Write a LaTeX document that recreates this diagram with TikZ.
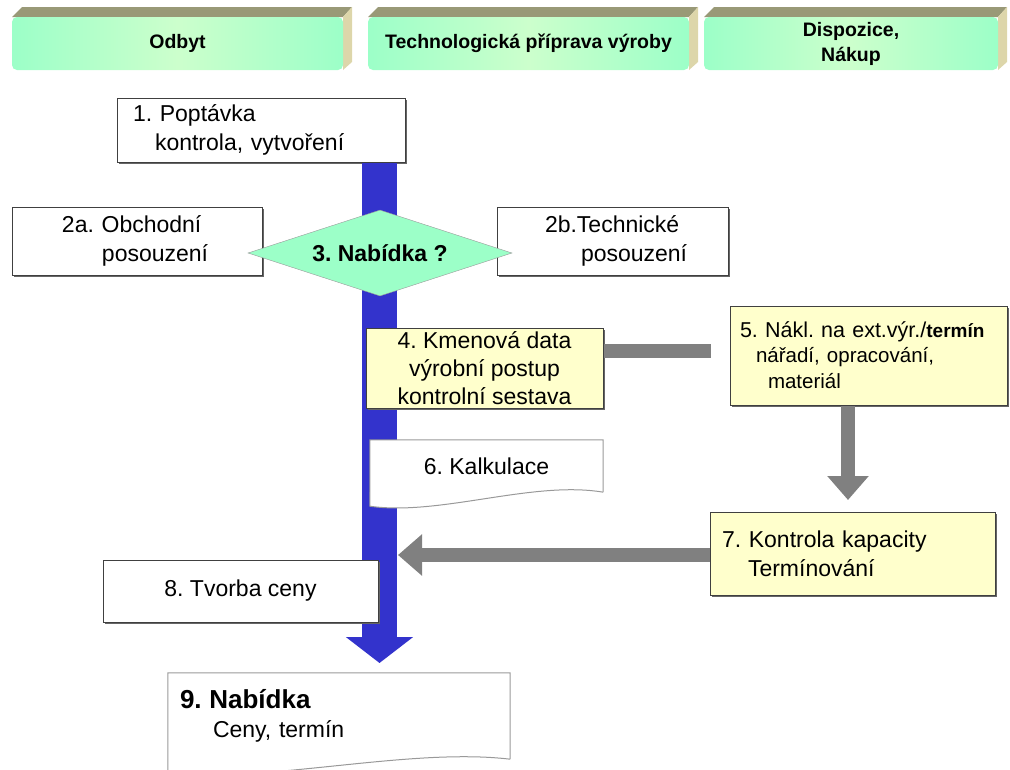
\documentclass[tikz,border=0pt]{standalone}
\usepackage{fontspec}
\setmainfont{Liberation Sans}
\usetikzlibrary{positioning, shapes.geometric, shadows, arrows.meta}
\definecolor{mint}{HTML}{9CFFC8}
\definecolor{mintlight}{HTML}{CCFFCC}
\definecolor{tabtop}{HTML}{999977}
\definecolor{tabside}{HTML}{DDD6AA}
\definecolor{flowblue}{HTML}{3333CC}
\definecolor{noteyellow}{HTML}{FFFFCC}
\definecolor{linkgray}{HTML}{808080}
\frenchspacing
\newcommand{\ind}[1]{\hspace*{#1pt}}
\newcommand{\txt}{\fontsize{23}{29}\selectfont}
\tikzset{%
  block/.style    = {draw = black!75, line width = 1pt, fill = white, rectangle,
    inner sep = 0pt, align = left, font = \txt,
    drop shadow = {shadow xshift = 2pt, shadow yshift = -2pt, fill = black!60, opacity = 1}},
  note/.style     = {block, fill = noteyellow}, % yellow boxes
  paper/.style    = {rectangle, fill = white, inner sep = 0pt, font = \txt}, % wavy boxes
  decision/.style = {diamond, aspect = 3.1, draw = black!40, fill = mint, inner sep = 0pt,
    font = \bfseries\fontsize{23}{28}\selectfont},
  header/.style   = {rectangle, rounded corners = 5pt, inner sep = 0pt, align = center,
    left color = mint, right color = mint, middle color = mintlight,
    font = \bfseries\fontsize{19.5}{25}\selectfont},
  flow/.style     = {flowblue, line width = 35pt, -{Triangle[width = 66pt, length = 26pt]}},
  link/.style     = {linkgray, line width = 14pt},
  linkarrow/.style = {link, -{Triangle[width = 40pt, length = 24pt]}}
}
% header tab: left, right, name, text
\newcommand{\headtab}[4]{%
  \fill[tabtop] (#1,17) -- (#1+10,7) -- (#2+9,7) -- (#2,17) -- cycle;
  \fill[tabside] (#2,17) -- (#2+9,7) -- (#2+9,62) -- (#2,70) -- cycle;
  \node[header, minimum width = #2-#1, minimum height = 53] (#3) at ({(#1+#2)/2},43.5) {#4};
}

\begin{document}
\begin{tikzpicture}[x = 1pt, y = -1pt]
\useasboundingbox (0,0) rectangle (1010,769);
%header tabs
\headtab{12}{343}{hodbyt}{Odbyt}
\headtab{368}{689}{htech}{Technologická příprava výroby}
\headtab{704}{998}{hnakup}{Dispozice,\\Nákup}
%first box and main flow
\draw
	(261,130) node [block, minimum width = 288, minimum height = 64, text width = 288pt] (b1)
		{\ind{16}1. Poptávka\\\ind{38}kontrola, vytvoření};
\coordinate (fend) at (379.5,663);
\draw[flow] (b1.south -| fend) -- (fend);
%process blocks
\draw
	(137,241) node [block, minimum width = 250, minimum height = 68, text width = 250pt] (b2a)
		{\ind{50}2a. Obchodní\\\ind{90}posouzení}
	(612.5,241) node [block, minimum width = 231, minimum height = 68, text width = 231pt] (b2b)
		{\ind{48}2b.Technické\\\ind{84}posouzení}
	(380,253) node [decision, minimum width = 264, minimum height = 86] (d3) {3. Nabídka ?}
	(484.5,368) node [note, minimum width = 237, minimum height = 80, align = center,
		font = \fontsize{23}{28}\selectfont] (b4)
		{4. Kmenová data\\výrobní postup\\kontrolní sestava}
	(868.5,355.5) node [note, minimum width = 277, minimum height = 99, text width = 277pt,
		font = \fontsize{21.5}{26}\selectfont] (b5)
		{\ind{10}5. Nákl. na ext.výr./\textbf{\fontsize{19}{26}\selectfont termín}\\
		\ind{26}\fontsize{20.5}{25}\selectfont nářadí, opracování,\\\ind{38}materiál}
	(852.5,553.5) node [note, minimum width = 285, minimum height = 83, text width = 285pt] (b7)
		{\ind{12}7. Kontrola kapacity\\\ind{38}Termínování}
	(240.5,591) node [block, minimum width = 275, minimum height = 62, align = center] (b8)
		{8. Tvorba ceny};
%wavy paper blocks
\node[paper, minimum width = 233, minimum height = 52] (b6) at (486.5,466) {6. Kalkulace};
\fill[white] (b6.south west) -- ++(0,14) .. controls +(70,10) and +(-70,-12) .. (b6.south east) -- cycle;
\draw[black!40, line width = 1pt] (b6.south east) -- (b6.north east) -- (b6.north west) -- (b6.south west)
	-- ++(0,14) .. controls +(70,10) and +(-70,-12) .. (b6.south east);
\node[paper, minimum width = 342, minimum height = 86, align = left, text width = 342pt] (b9) at (339,716)
	{\ind{12}{\bfseries\fontsize{26}{31}\selectfont 9. Nabídka}\\\ind{45}Ceny, termín};
\fill[white] (b9.south west) -- ++(0,14) .. controls +(100,10) and +(-100,-12) .. (b9.south east) -- cycle;
\draw[black!40, line width = 1pt] (b9.south east) -- (b9.north east) -- (b9.north west) -- (b9.south west)
	-- ++(0,14) .. controls +(100,10) and +(-100,-12) .. (b9.south east);
%gray links
\coordinate (k45) at (711,351);
\coordinate (k57) at (848,500);
\coordinate (k7) at (398,555);
\draw[link] (b4.east |- k45) -- (k45);
\draw[linkarrow] (b5.south -| k57) -- (k57);
\draw[linkarrow] (b7.west |- k7) -- (k7);
\end{tikzpicture}
\end{document}
